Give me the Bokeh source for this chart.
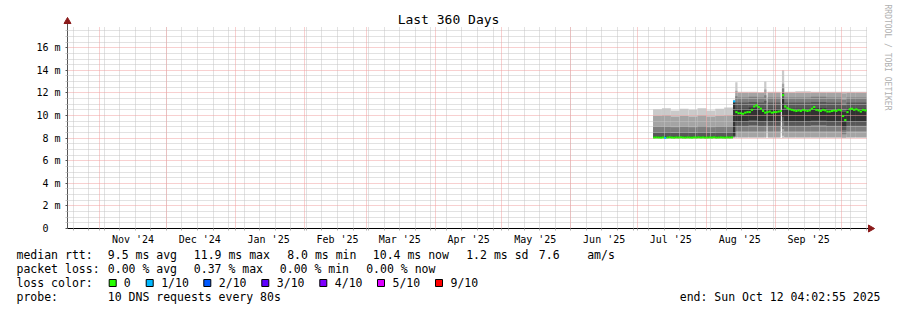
import math
import numpy as np
import pandas as pd
from bokeh.plotting import figure
from bokeh.models import Range1d, FixedTicker, Grid, Label, ColumnDataSource
from bokeh.embed import file_html
from bokeh.resources import INLINE
from bokeh.core.properties import value

# ---------------- data ----------------
title_text = "Last 360 Days"
graph_start = "2024-10-17 12:00"
graph_end = "2025-10-12 12:00"          # 360 days
y_label = "Seconds"
watermark = "RRDTOOL / TOBI OETIKER"

y_ticks = [0, 2, 4, 6, 8, 10, 12, 14, 16]            # ms
y_tick_labels = ["0\u00a0\u00a0", "2 m", "4 m", "6 m", "8 m", "10 m", "12 m", "14 m", "16 m"]
month_labels = ["Nov '24", "Dec '24", "Jan '25", "Feb '25", "Mar '25", "Apr '25",
                "May '25", "Jun '25", "Jul '25", "Aug '25", "Sep '25"]
month_label_dates = ["2024-11-16", "2024-12-16", "2025-01-16", "2025-02-16", "2025-03-16",
                     "2025-04-16", "2025-05-16", "2025-06-16", "2025-07-16", "2025-08-16",
                     "2025-09-16"]

# daily median rtt (ms) and lost pings (of 10), starting 2025-07-08
median_first_day = "2025-07-08"
median_ms = [
    8.05, 8.06, 8.05, 8.04, 8.06, 8.02, 8.05, 8.07, 8.05, 8.04, 8.06, 8.05,
    8.07, 8.05, 8.04, 8.06, 8.05, 8.04, 8.06, 8.05, 8.07, 8.05, 8.06, 8.04,
    8.05, 8.06, 8.05, 8.07, 8.04, 8.05, 8.06, 8.05, 8.04, 8.06, 8.05, 8.06,
    11.25, 10.30, 10.20, 10.20, 10.15, 10.25, 10.30, 10.30, 10.50, 10.80,
    10.90, 10.75, 10.60, 10.40, 10.25, 10.30, 10.35, 10.25, 10.30, 10.30,
    10.35, 10.40, 11.80, 10.80, 10.65, 10.55, 10.50, 10.45, 10.40, 10.45,
    10.40, 10.50, 10.45, 10.40, 10.45, 10.60, 10.75, 10.50, 10.45, 10.40,
    10.50, 10.45, 10.35, 10.35, 10.40, 10.45, 10.40, 10.50, 10.45, 9.95,
    9.60, 10.30, 10.55, 10.60, 10.50, 10.55, 10.45, 10.35, 10.50, 10.45,
]
lost = [
    0, 0, 0, 0, 0, 1, 0, 0, 0, 0, 0, 0, 0, 0, 0, 0, 0, 0, 0, 0, 0, 0, 0, 0,
    0, 0, 0, 0, 0, 0, 0, 0, 0, 0, 0, 0,
    1, 0, 0, 0, 0, 0, 0, 0, 0, 0, 0, 0, 0, 0, 0, 0, 0, 0, 0, 0, 0, 0, 0, 0,
    0, 0, 0, 0, 0, 0, 0, 0, 0, 0, 0, 0, 0, 0, 0, 0, 0, 0, 0, 0, 0, 0, 0, 0,
    0, 0, 0, 0, 0, 0, 0, 0, 0, 0, 0, 0,
]
median_last_end = "2025-10-12 04:00"

# smoke: sorted ping times (ms) per time segment, p1 = fastest ... p10 = slowest
seg_start = ["2025-07-08", "2025-07-12", "2025-07-16", "2025-07-20", "2025-07-24",
             "2025-07-28", "2025-08-01", "2025-08-05", "2025-08-09",
             "2025-08-13", "2025-08-14", "2025-08-15", "2025-08-20", "2025-08-24",
             "2025-08-27", "2025-08-28 14:00", "2025-08-31", "2025-09-04",
             "2025-09-05", "2025-09-10", "2025-09-17", "2025-09-24", "2025-10-01",
             "2025-10-03", "2025-10-07"]
seg_end = ["2025-07-12", "2025-07-16", "2025-07-20", "2025-07-24", "2025-07-28",
           "2025-08-01", "2025-08-05", "2025-08-09", "2025-08-13",
           "2025-08-14", "2025-08-15", "2025-08-20", "2025-08-24", "2025-08-27",
           "2025-08-28", "2025-08-31", "2025-09-03 08:00", "2025-09-05",
           "2025-09-10", "2025-09-17", "2025-09-24", "2025-10-01", "2025-10-03",
           "2025-10-07", "2025-10-12 04:00"]
p1 = [7.97, 7.97, 7.97, 7.97, 7.97, 7.97, 7.97, 7.97, 7.97,
      8.00, 8.00, 8.00, 8.00, 8.00, 8.00, 8.00, 8.00, 8.00, 8.00, 8.00, 8.00, 8.00, 8.00, 8.00, 8.00]
p2 = [7.99, 7.99, 7.99, 7.99, 7.99, 7.99, 7.99, 7.99, 7.99,
      8.05, 8.10, 8.10, 8.10, 8.10, 8.10, 8.10, 8.10, 8.20, 8.10, 8.10, 8.10, 8.10, 8.05, 8.10, 8.10]
p3 = [8.01, 8.01, 8.01, 8.01, 8.01, 8.01, 8.01, 8.01, 8.01,
      8.10, 8.60, 8.60, 8.60, 8.60, 8.60, 8.60, 8.60, 8.80, 8.60, 8.60, 8.60, 8.60, 8.35, 8.60, 8.60]
p4 = [8.03, 8.03, 8.03, 8.03, 8.03, 8.03, 8.03, 8.03, 8.03,
      8.15, 9.10, 9.10, 9.15, 9.10, 9.10, 9.10, 9.10, 9.40, 9.10, 9.10, 9.15, 9.10, 8.70, 9.10, 9.10]
p5 = [8.06, 8.06, 8.06, 8.06, 8.06, 8.06, 8.06, 8.06, 8.06,
      8.20, 9.50, 9.50, 9.60, 9.50, 9.50, 9.50, 9.50, 9.90, 9.50, 9.50, 9.55, 9.50, 9.00, 9.50, 9.50]
p6 = [8.15, 8.15, 8.15, 8.15, 8.15, 8.15, 8.15, 8.15, 8.15,
      11.15, 10.60, 10.60, 10.70, 10.60, 10.60, 10.60, 10.60, 11.50, 10.60, 10.60, 10.65, 10.60, 10.30, 10.60, 10.60]
p7 = [8.50, 8.50, 8.45, 8.50, 8.45, 8.50, 8.45, 8.50, 8.50,
      11.20, 11.15, 11.15, 11.20, 11.15, 11.30, 11.15, 11.15, 12.00, 11.15, 11.15, 11.20, 11.15, 10.90, 11.15, 11.15]
p8 = [9.00, 9.00, 8.95, 9.00, 8.95, 9.05, 8.95, 9.00, 9.00,
      11.25, 11.70, 11.60, 11.65, 11.60, 11.80, 11.60, 11.60, 12.40, 11.60, 11.60, 11.65, 11.60, 11.40, 11.60, 11.60]
p9 = [9.95, 10.00, 9.90, 9.95, 9.90, 10.00, 9.90, 9.95, 10.00,
      11.30, 12.20, 12.00, 12.00, 12.00, 12.30, 12.00, 12.00, 12.80, 12.00, 12.00, 12.00, 12.00, 11.95, 12.00, 12.00]
p10 = [10.55, 10.65, 10.45, 10.60, 10.50, 10.65, 10.45, 10.60, 10.70,
       11.40, 12.95, 12.10, 12.10, 12.05, 13.00, 12.10, 12.10, 14.00, 12.10, 12.15, 12.10, 12.10, 12.10, 12.10, 12.10]

# legend
legend_rows = [
    ["median rtt:", "9.5 ms avg", "11.9 ms max", "8.0 ms min", "10.4 ms now", "1.2 ms sd", "7.6", "am/s"],
    ["packet loss:", "0.00 % avg", "0.37 % max", "0.00 % min", "0.00 % now"],
    ["loss color:"],
    ["probe:", "10 DNS requests every 80s"],
]
loss_names = ["0", "1/10", "2/10", "3/10", "4/10", "5/10", "9/10"]
loss_colors = ["#26ff00", "#00b8ff", "#0059ff", "#5e00ff", "#7e00ff", "#dd00ff", "#ff0000"]
end_text = "end: Sun Oct 12 04:02:55 2025"

# ---------------- layout / style ----------------
FONT = "DejaVu Sans Mono"
W, H = 897, 310
PX_LEFT = 67            # frame left (y axis)
PX_DATA = 800           # pixels spanning the 360 days
PX_ZERO = 228           # y pixel of 0
PX_PER_MS = 11.3
GRID_TOP_PX = 26
AXIS_TOP_PX = 21
AXIS_RIGHT_PX = 870

def ms(t):
    return pd.Timestamp(t).value / 1e6

t0, t1 = ms(graph_start), ms(graph_end)
ms_per_px = (t1 - t0) / PX_DATA
x_end = t0 + (W - PX_LEFT) * ms_per_px
y_end = PX_ZERO / PX_PER_MS
y_grid_top = (PX_ZERO - GRID_TOP_PX) / PX_PER_MS
y_axis_top = (PX_ZERO - AXIS_TOP_PX) / PX_PER_MS
x_axis_right = t0 + (AXIS_RIGHT_PX - PX_LEFT) * ms_per_px

p = figure(width=W, height=H, x_range=Range1d(t0, x_end), y_range=Range1d(0, y_end),
           output_backend="svg", toolbar_location=None,
           min_border_left=PX_LEFT, min_border_right=0, min_border_top=0,
           min_border_bottom=H - PX_ZERO)
p.outline_line_color = None
p.background_fill_color = "white"
p.border_fill_color = "white"
# page-pixel coordinate system for the legend texts below the graph
p.extra_x_ranges = {"px": Range1d(PX_LEFT, W)}
p.extra_y_ranges = {"px": Range1d(PX_ZERO, 0)}

month_starts = [ms(d) for d in pd.date_range("2024-11-01", "2025-10-01", freq="MS")]
weeks = [ms(d) for d in pd.date_range(graph_start, graph_end, freq="W-SUN").normalize()]
label_ticks = [ms(d) for d in month_label_dates]

# x axis
xa = p.xaxis[0]
xa.ticker = FixedTicker(ticks=label_ticks, minor_ticks=sorted(set(weeks + month_starts)))
xa.major_label_overrides = {t: l for t, l in zip(label_ticks, month_labels)}
xa.major_tick_line_color = None
xa.major_tick_out = 0
xa.major_tick_in = 0
xa.minor_tick_out = 2
xa.minor_tick_in = 0
xa.minor_tick_line_color = "#b0b0b0"
xa.axis_line_color = "black"
xa.bounds = (t0, x_axis_right)
xa.major_label_text_font = FONT
xa.major_label_text_font_size = "10px"
xa.major_label_text_color = "black"
xa.major_label_standoff = 3

# y axis
ya = p.yaxis[0]
y_minor = [v / 2 for v in range(0, 36) if v % 4 != 0]
ya.ticker = FixedTicker(ticks=y_ticks, minor_ticks=y_minor)
ya.major_label_overrides = {t: l for t, l in zip(y_ticks, y_tick_labels)}
ya.major_tick_out = 2
ya.major_tick_in = 0
ya.major_tick_line_color = "#555555"
ya.minor_tick_out = 2
ya.minor_tick_in = 0
ya.minor_tick_line_color = "#c8c8c8"
ya.axis_line_color = "#555555"
ya.bounds = (0, y_axis_top)
ya.major_label_text_font = FONT
ya.major_label_text_font_size = "10px"
ya.major_label_text_color = "black"
ya.major_label_standoff = 5

# vertical axis title (centred on the drawn axis, like rrdtool)
p.add_layout(Label(x=10 - PX_LEFT, y=PX_ZERO - 127, x_units="screen", y_units="screen",
                   text=y_label, text_font=FONT, text_font_size="11.5px", angle=math.pi / 2,
                   text_align="center", text_baseline="middle", text_color="black"))

# grids (drawn over the smoke, as rrdtool does)
p.xgrid.visible = False
p.ygrid.visible = False
MINOR = "#c4c4c4"
MAJOR = "#f0a0a0"
grids = [
    Grid(dimension=1, ticker=FixedTicker(ticks=y_minor), grid_line_color=MINOR,
         grid_line_dash="1 1", cross_bounds=(t0, t1)),
    Grid(dimension=0, ticker=FixedTicker(ticks=weeks), grid_line_color=MINOR,
         grid_line_dash="1 1", cross_bounds=(0, y_grid_top)),
    Grid(dimension=1, ticker=FixedTicker(ticks=y_ticks[1:]), grid_line_color=MAJOR,
         grid_line_dash="1 1", cross_bounds=(t0, t1)),
    Grid(dimension=0, ticker=FixedTicker(ticks=month_starts), grid_line_color=MAJOR,
         grid_line_dash="1 1", cross_bounds=(0, y_grid_top)),
]
for g in grids:
    g.level = "glyph"
    p.add_layout(g)

# smoke bands
pings = [p1, p2, p3, p4, p5, p6, p7, p8, p9, p10]
left = [ms(s) for s in seg_start]
right = [ms(s) for s in seg_end]
for ib in range(5):
    shade = int(190 / 5 * (5 - (ib + 1))) + 50
    col = "#%02x%02x%02x" % (shade, shade, shade)
    src = ColumnDataSource(dict(left=left, right=right, bottom=pings[ib], top=pings[9 - ib]))
    p.quad(left="left", right="right", bottom="bottom", top="top", source=src,
           fill_color=col, line_color=None, level="underlay")

# median line coloured by loss (one short stroke per day)
day0 = pd.Timestamp(median_first_day)
n = len(median_ms)
d_start = [ms(day0 + pd.Timedelta(days=i)) for i in range(n)]
d_end = d_start[1:] + [ms(median_last_end)]
loss_idx = {0: 0, 1: 1, 2: 2, 3: 3, 4: 4, 5: 5, 9: 6}
seg_col = [loss_colors[loss_idx[l]] for l in lost]
p.segment(x0=d_start, x1=d_end, y0=median_ms, y1=median_ms, line_color=seg_col,
          line_width=2, level="overlay")

# axis arrows
ARROW = "#8b1a1a"
p.scatter(x=[t0], y=[y_axis_top], marker="triangle", size=7, fill_color=ARROW,
          line_color=ARROW, level="overlay")
p.scatter(x=[x_axis_right], y=[0], marker="triangle", angle=-math.pi / 2, size=7,
          fill_color=ARROW, line_color=ARROW, level="overlay")

# title and watermark
p.add_layout(Label(x=448 - PX_LEFT, y=PX_ZERO - 19, x_units="screen", y_units="screen",
                   text=title_text, text_font=FONT, text_font_size="13px",
                   text_align="center", text_baseline="middle", text_color="black"))
p.add_layout(Label(x=887 - PX_LEFT, y=PX_ZERO - 4, x_units="screen", y_units="screen",
                   text=watermark, text_font=FONT, text_font_size="8px", angle=-math.pi / 2,
                   text_align="left", text_baseline="middle", text_color="#b0b0b0"))

# ---------------- legend (page pixel coordinates) ----------------
row_y = [254, 268, 282, 296]
row_x = [
    [16, 107.3, 193.3, 286.7, 372.3, 465.7, 538.3, 586.7],
    [16, 107.3, 193.3, 279.3, 365.7],
    [16],
    [16, 107.3],
]
tx, ty, tt = [], [], []
for r, xs, yy in zip(legend_rows, row_x, row_y):
    for s, xx in zip(r, xs):
        tx.append(xx); ty.append(yy); tt.append(s)
sq_left = [108.7, 145.7, 203.3, 261.3, 319.3, 377.0, 435.0]
lab_x = [123.3, 160.7, 218.3, 276.3, 334.3, 392.0, 450.0]
for s, xx in zip(loss_names, lab_x):
    tx.append(xx); ty.append(row_y[2]); tt.append(s)
p.text(x=tx, y=ty, text=tt, text_font=value(FONT), text_font_size="11.5px",
       text_baseline="middle", text_align="left", text_color="black",
       x_range_name="px", y_range_name="px", level="overlay")
p.rect(x=[v + 3.5 for v in sq_left], y=[row_y[2] + 0.5] * len(sq_left), width=7, height=7,
       fill_color=loss_colors, line_color="black", line_width=1,
       x_range_name="px", y_range_name="px", level="overlay")
p.text(x=[880], y=[row_y[3]], text=[end_text], text_font=value(FONT), text_font_size="11.5px",
       text_baseline="middle", text_align="right", text_color="black",
       x_range_name="px", y_range_name="px", level="overlay")

open("out.html", "w").write(file_html(p, INLINE))
